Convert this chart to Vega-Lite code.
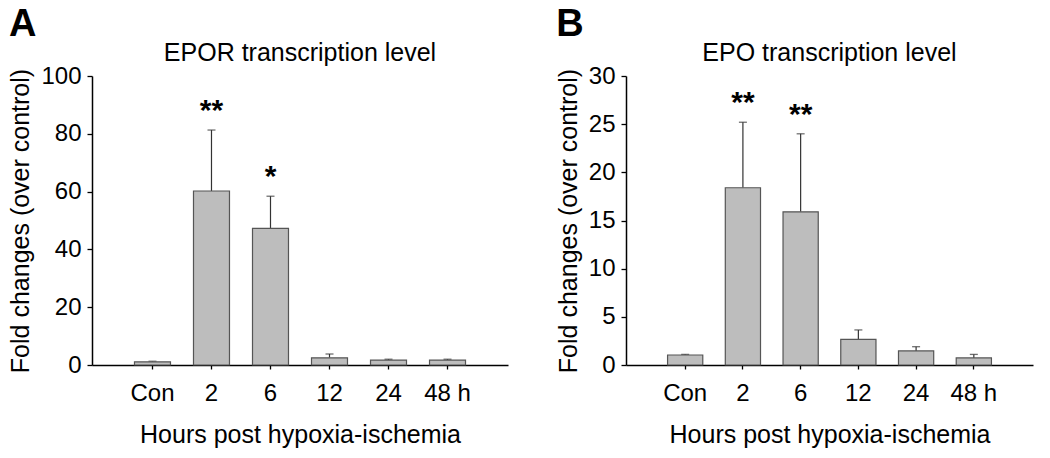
{
  "$schema": "https://vega.github.io/schema/vega-lite/v6.json",
  "padding": {"left": 8, "top": 6, "right": 5, "bottom": 5},
  "background": "white",
  "datasets": {
    "epor": [
      {"time": "Con", "mean": 1.1, "upper": 1.3, "sig": ""},
      {"time": "2", "mean": 60.2, "upper": 81.3, "sig": "**"},
      {"time": "6", "mean": 47.3, "upper": 58.4, "sig": "*"},
      {"time": "12", "mean": 2.5, "upper": 3.8, "sig": ""},
      {"time": "24", "mean": 1.7, "upper": 2.0, "sig": ""},
      {"time": "48 h", "mean": 1.7, "upper": 2.0, "sig": ""}
    ],
    "epo": [
      {"time": "Con", "mean": 1.04, "upper": 1.1, "sig": ""},
      {"time": "2", "mean": 18.4, "upper": 25.2, "sig": "**"},
      {"time": "6", "mean": 15.9, "upper": 24.0, "sig": "**"},
      {"time": "12", "mean": 2.67, "upper": 3.64, "sig": ""},
      {"time": "24", "mean": 1.46, "upper": 1.9, "sig": ""},
      {"time": "48 h", "mean": 0.73, "upper": 1.1, "sig": ""}
    ]
  },
  "hconcat": [
    {
      "title": {"text": "A", "anchor": "start", "fontSize": 38, "fontWeight": "bold", "offset": -3, "color": "black"},
      "vconcat": [
        {
          "title": {"text": "EPOR transcription level", "fontSize": 25, "fontWeight": "normal", "offset": -2, "color": "black"},
          "width": 416,
          "height": 289,
          "data": {"name": "epor"},
          "encoding": {
            "x": {"field": "time", "type": "nominal", "sort": null,
                  "scale": {"paddingInner": 0.39, "paddingOuter": 0.72},
                  "axis": {"title": "Hours post hypoxia-ischemia", "labelAngle": 0}}
          },
          "layer": [
            {"mark": {"type": "rule", "color": "#333", "strokeWidth": 1.2},
             "encoding": {"y": {"field": "mean", "type": "quantitative"}, "y2": {"field": "upper"}}},
            {"mark": {"type": "tick", "color": "#333", "size": 8, "thickness": 1.3},
             "encoding": {"y": {"field": "upper", "type": "quantitative"}}},
            {"mark": {"type": "bar", "fill": "#bdbdbd", "stroke": "#555", "strokeWidth": 1.2},
             "encoding": {"y": {"field": "mean", "type": "quantitative",
                                "scale": {"domain": [0, 100]},
                                "axis": {"title": "Fold changes (over control)", "values": [0, 20, 40, 60, 80, 100]}}}},
            {"mark": {"type": "text", "fontSize": 30, "fontWeight": "bold", "dy": -4, "baseline": "bottom", "color": "black"},
             "encoding": {"y": {"field": "upper", "type": "quantitative"}, "text": {"field": "sig"}}}
          ]
        }
      ]
    },
    {
      "title": {"text": "B", "anchor": "start", "fontSize": 38, "fontWeight": "bold", "offset": -3, "color": "black"},
      "vconcat": [
        {
          "title": {"text": "EPO transcription level", "fontSize": 25, "fontWeight": "normal", "offset": -2, "color": "black"},
          "width": 407,
          "height": 289,
          "data": {"name": "epo"},
          "encoding": {
            "x": {"field": "time", "type": "nominal", "sort": null,
                  "scale": {"paddingInner": 0.39, "paddingOuter": 0.72},
                  "axis": {"title": "Hours post hypoxia-ischemia", "labelAngle": 0}}
          },
          "layer": [
            {"mark": {"type": "rule", "color": "#333", "strokeWidth": 1.2},
             "encoding": {"y": {"field": "mean", "type": "quantitative"}, "y2": {"field": "upper"}}},
            {"mark": {"type": "tick", "color": "#333", "size": 8, "thickness": 1.3},
             "encoding": {"y": {"field": "upper", "type": "quantitative"}}},
            {"mark": {"type": "bar", "fill": "#bdbdbd", "stroke": "#555", "strokeWidth": 1.2},
             "encoding": {"y": {"field": "mean", "type": "quantitative",
                                "scale": {"domain": [0, 30]},
                                "axis": {"title": "Fold changes (over control)", "values": [0, 5, 10, 15, 20, 25, 30]}}}},
            {"mark": {"type": "text", "fontSize": 30, "fontWeight": "bold", "dy": -4, "baseline": "bottom", "color": "black"},
             "encoding": {"y": {"field": "upper", "type": "quantitative"}, "text": {"field": "sig"}}}
          ]
        }
      ]
    }
  ],
  "spacing": 48,
  "config": {
    "font": "Liberation Sans",
    "view": {"stroke": null},
    "concat": {"spacing": 0},
    "axis": {
      "grid": false,
      "domainColor": "black",
      "domainWidth": 1.5,
      "tickColor": "black",
      "tickWidth": 1.3,
      "labelColor": "black",
      "titleColor": "black",
      "labelFontSize": 24,
      "titleFontSize": 25,
      "titleFontWeight": "normal"
    },
    "axisX": {"tickSize": 4, "labelPadding": 12, "titlePadding": 17},
    "axisY": {"tickSize": 5, "labelPadding": 6, "titlePadding": 7}
  }
}
